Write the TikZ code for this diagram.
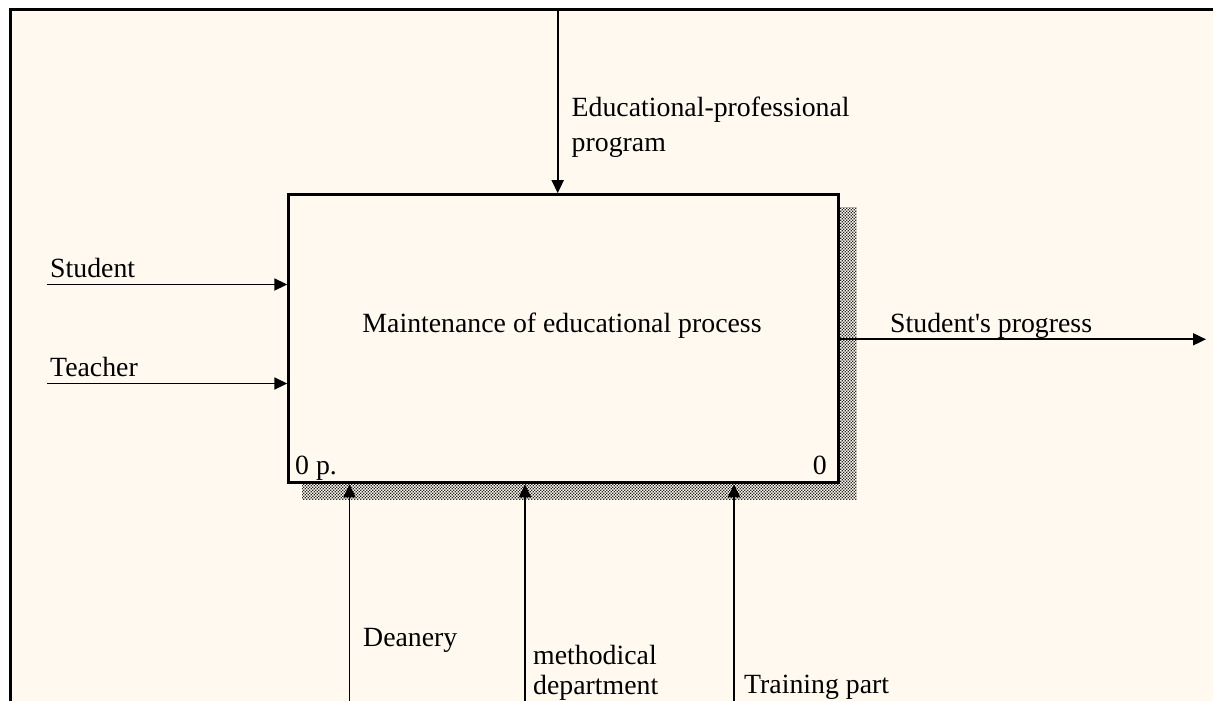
\documentclass[tikz,border=0pt]{standalone}
\usepackage{fontspec}
\setmainfont{Liberation Serif}[Ligatures=TeXOff]
\usetikzlibrary{arrows.meta,patterns}
\definecolor{cream}{HTML}{FFF9EF}
\pgfdeclarepatternformonly{idefdots}{\pgfpoint{-0.5pt}{-0.5pt}}{\pgfpoint{3.5pt}{3.5pt}}{\pgfpoint{3pt}{3pt}}{%
  \pgfpathrectangle{\pgfpoint{0pt}{0pt}}{\pgfpoint{1.3pt}{1.3pt}}%
  \pgfpathrectangle{\pgfpoint{1.5pt}{1.5pt}}{\pgfpoint{1.3pt}{1.3pt}}%
  \pgfusepath{fill}}
\tikzset{
  lbl/.style={anchor=base west, inner sep=0pt, font=\fontsize{27.8}{34}\selectfont},
  arr/.style={line width=1.8pt, -{Triangle[length=13pt,width=12pt]}},
}
\begin{document}
\begin{tikzpicture}[x=1pt,y=-1pt]
\useasboundingbox (0,0) rectangle (1213,701);
\fill[white] (0,0) rectangle (1213,701);
% frame
\fill[cream] (10.5,9.5) rectangle (1213,701);
\draw[line width=3pt] (10.5,701) -- (10.5,9.5) -- (1213,9.5);
% shadow
\fill[pattern=idefdots, pattern color=black!85] (302,207) rectangle (856.5,499);
% box
\node[draw, line width=3pt, fill=cream, minimum width=549.4pt, minimum height=288.1pt,
      anchor=north west, inner sep=0pt] (box) at (287.3,193.2) {};
\node[lbl, anchor=base] (title) at (562,332.5) {Maintenance of educational process};
\node[lbl] (num) at (295,474.3) {0 p.};
\node[lbl, anchor=base east] (num2) at (827,474.3) {0};
% control
\coordinate (ctl) at (557.7,9.5);
\draw[arr] (ctl) -- (ctl |- box.north);
\node[lbl] (ctlA) at (571.5,116) {Educational-professional};
\node[lbl] (ctlB) at (571.5,151.5) {program};
% inputs
\coordinate (stu) at (47,284.5);
\draw[arr] (stu) -- (stu -| box.west);
\node[lbl] (stuL) at (50,277.5) {Student};
\coordinate (tea) at (47,383.5);
\draw[arr] (tea) -- (tea -| box.west);
\node[lbl] (teaL) at (50,376) {Teacher};
% output
\coordinate (out) at (1206,339.3);
\draw[arr] (out -| box.east) -- (out);
\node[lbl] (outL) at (890,332) {Student's progress};
% mechanisms
\coordinate (m1) at (349.5,701);
\coordinate (m2) at (525,701);
\coordinate (m3) at (734,701);
\draw[arr] (m1) -- (m1 |- box.south);
\draw[arr] (m2) -- (m2 |- box.south);
\draw[arr] (m3) -- (m3 |- box.south);
\node[lbl] (m1L) at (363,646) {Deanery};
\node[lbl] (m2A) at (533,664) {methodical};
\node[lbl] (m2B) at (533,694.5) {department};
\node[lbl] (m3L) at (744,693.5) {Training part};
\end{tikzpicture}
\end{document}
